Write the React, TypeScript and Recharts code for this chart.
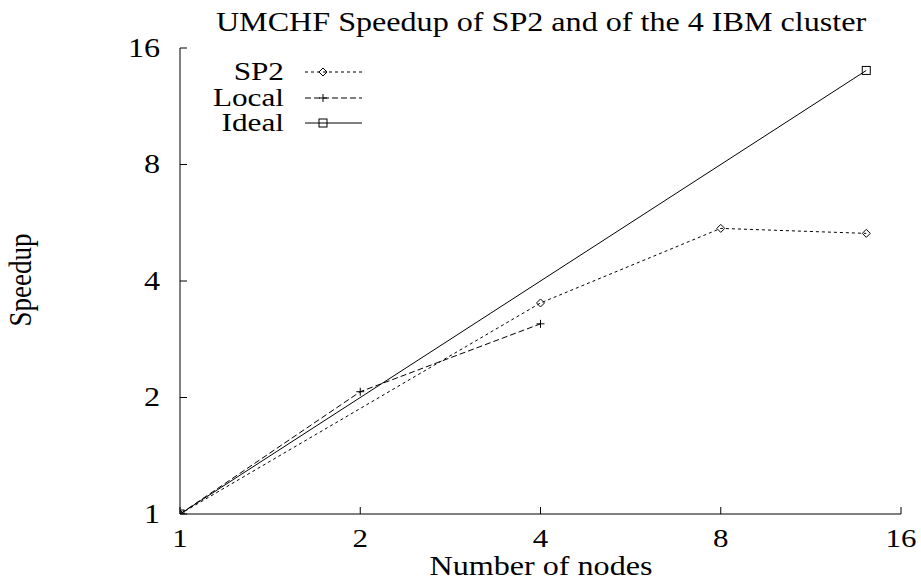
import React from "react";
import { LineChart, Line, XAxis, YAxis } from "recharts";

// gnuplot-style log-log speedup plot, serif text slightly stretched like the source image
const FONT = '"Liberation Serif", "Times New Roman", serif';
const STRETCH = 1.19;
const INK = "#000";

const nodeTicks = [1, 2, 4, 8, 16];
const speedupTicks = [1, 2, 4, 8, 16];

const sp2Nodes = [1, 4, 8, 14];
const sp2Speedup = [1, 3.51, 5.47, 5.31];
const localNodes = [1, 2, 4];
const localSpeedup = [1, 2.07, 3.1];
const idealNodes = [1, 14];
const idealSpeedup = [1, 14];

const zip = (xs: number[], ys: number[]) =>
  xs.map((n, i) => ({ nodes: n, speedup: ys[i] }));

type Shape = "diamond" | "plus" | "square";

const series: { name: string; data: { nodes: number; speedup: number }[]; dash?: string; shape: Shape }[] = [
  { name: "SP2", data: zip(sp2Nodes, sp2Speedup), dash: "3 3", shape: "diamond" },
  { name: "Local", data: zip(localNodes, localSpeedup), dash: "6 3", shape: "plus" },
  { name: "Ideal", data: zip(idealNodes, idealSpeedup), shape: "square" },
];

function Marker({ cx, cy, shape }: { cx: number; cy: number; shape: Shape }) {
  if (shape === "diamond") {
    return (
      <path
        d={`M${cx} ${cy - 4}L${cx + 4} ${cy}L${cx} ${cy + 4}L${cx - 4} ${cy}Z`}
        fill="none"
        stroke={INK}
      />
    );
  }
  if (shape === "plus") {
    return (
      <path
        d={`M${cx - 4} ${cy}H${cx + 4}M${cx} ${cy - 4}V${cy + 4}`}
        stroke={INK}
      />
    );
  }
  return <rect x={cx - 4} y={cy - 4} width={8} height={8} fill="none" stroke={INK} />;
}

function XTick(props: any) {
  const { x, y, payload } = props;
  return (
    <text
      transform={`translate(${x} ${y}) scale(${STRETCH} 1)`}
      textAnchor="middle"
      fontFamily={FONT}
      fontSize={26}
      fill={INK}
    >
      {payload.value}
    </text>
  );
}

function YTick(props: any) {
  const { x, y, payload } = props;
  return (
    <text
      transform={`translate(${x} ${y}) scale(${STRETCH} 1)`}
      textAnchor="end"
      dy="0.33em"
      fontFamily={FONT}
      fontSize={27}
      fill={INK}
    >
      {payload.value}
    </text>
  );
}

const noTick = () => <g />;

function Labels() {
  const rows = [72, 98, 123];
  return (
    <svg
      width={921}
      height={582}
      style={{ position: "absolute", left: 0, top: 0, pointerEvents: "none" }}
      fontFamily={FONT}
      fill={INK}
    >
      <text transform={`translate(541 31) scale(${STRETCH} 1)`} textAnchor="middle" fontSize={27}>
        UMCHF Speedup of SP2 and of the 4 IBM cluster
      </text>
      <text transform={`translate(541 575) scale(${STRETCH} 1)`} textAnchor="middle" fontSize={27}>
        Number of nodes
      </text>
      <text
        transform={`translate(31 280) scale(${STRETCH} 1) rotate(-90)`}
        textAnchor="middle"
        fontSize={27}
      >
        Speedup
      </text>
      {series.map((s, i) => (
        <g key={s.name}>
          <text
            transform={`translate(284 ${rows[i] + 8}) scale(1.25 1)`}
            textAnchor="end"
            fontSize={25}
          >
            {s.name}
          </text>
          <line x1={305} x2={362} y1={rows[i]} y2={rows[i]} stroke={INK} strokeDasharray={s.dash} />
          <Marker cx={323} cy={rows[i]} shape={s.shape} />
        </g>
      ))}
    </svg>
  );
}

export default function App() {
  return (
    <div style={{ position: "absolute", left: 0, top: 0, width: 921, height: 582, background: "#fff" }}>
      <LineChart width={921} height={582} margin={{ top: 48, right: 20, bottom: 0, left: 0 }}>
        <XAxis
          xAxisId="b"
          dataKey="nodes"
          type="number"
          scale="log"
          domain={[1, 16]}
          ticks={nodeTicks}
          interval={0}
          allowDataOverflow
          orientation="bottom"
          height={68}
          axisLine={{ stroke: INK }}
          tickLine={{ stroke: INK }}
          tickSize={-7}
          tickMargin={40}
          tick={<XTick />}
        />
        <XAxis
          xAxisId="t"
          dataKey="nodes"
          type="number"
          scale="log"
          domain={[1, 16]}
          ticks={nodeTicks}
          interval={0}
          allowDataOverflow
          orientation="top"
          height={0}
          axisLine={{ stroke: INK }}
          tickLine={{ stroke: INK }}
          tickSize={-7}
          tick={noTick}
        />
        <YAxis
          yAxisId="l"
          dataKey="speedup"
          type="number"
          scale="log"
          domain={[1, 16]}
          ticks={speedupTicks}
          interval={0}
          allowDataOverflow
          width={180}
          axisLine={{ stroke: INK }}
          tickLine={{ stroke: INK }}
          tickSize={-7}
          tickMargin={27}
          tick={<YTick />}
        />
        <YAxis
          yAxisId="r"
          dataKey="speedup"
          type="number"
          scale="log"
          domain={[1, 16]}
          ticks={speedupTicks}
          interval={0}
          allowDataOverflow
          orientation="right"
          width={0}
          axisLine={{ stroke: INK }}
          tickLine={{ stroke: INK }}
          tickSize={-7}
          tick={noTick}
        />
        {series.map((s) => (
          <Line
            key={s.name}
            xAxisId="b"
            yAxisId="l"
            data={s.data}
            dataKey="speedup"
            name={s.name}
            type="linear"
            stroke={INK}
            strokeWidth={1}
            strokeDasharray={s.dash}
            isAnimationActive={false}
            dot={(p: any) => <Marker key={`${s.name}-${p.index}`} cx={p.cx} cy={p.cy} shape={s.shape} />}
            activeDot={false}
          />
        ))}
      </LineChart>
      <Labels />
    </div>
  );
}
